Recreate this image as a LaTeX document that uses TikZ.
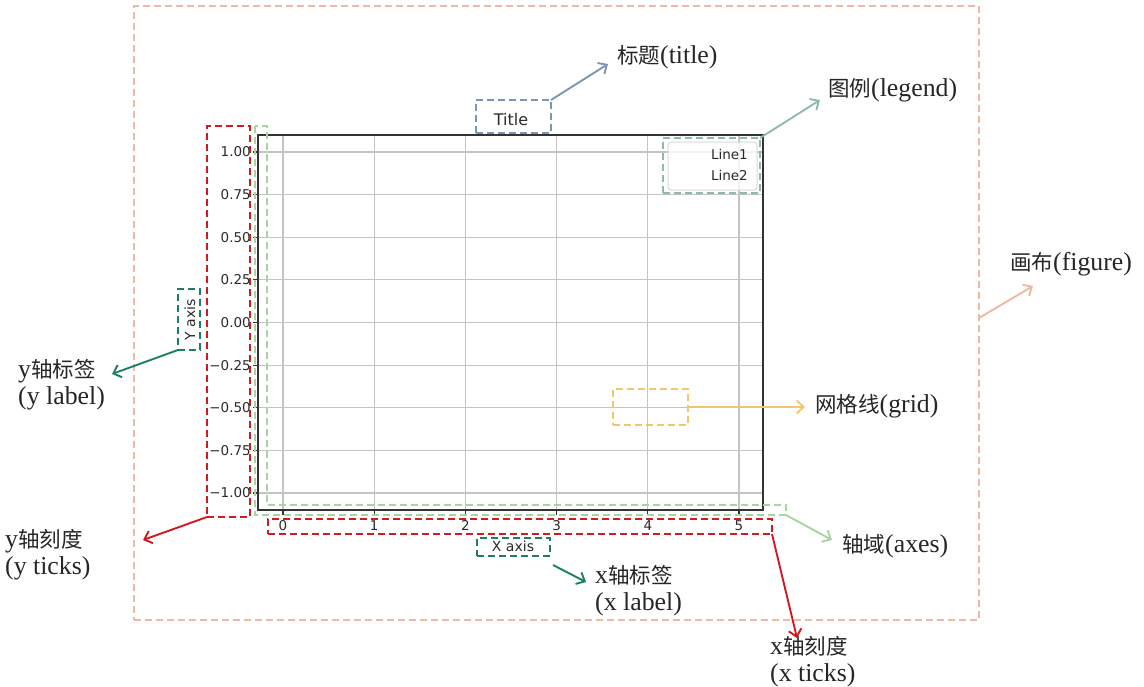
\documentclass[tikz,border=0pt]{standalone}
\usepackage{fontspec}
\setmainfont{Liberation Serif}[Scale=1.2]
\newfontfamily\cjk{Noto Sans CJK SC}
\newfontfamily\mpl{DejaVu Sans}
\usetikzlibrary{arrows.meta}
\definecolor{figc}{HTML}{EFB8A2}
\definecolor{titc}{HTML}{7E94B5}
\definecolor{legc}{HTML}{8CBCA5}
\definecolor{axc}{HTML}{A9D3A0}
\definecolor{labc}{HTML}{1A7F64}
\definecolor{tickc}{HTML}{D11A1F}
\definecolor{gridc}{HTML}{F2C66D}
\definecolor{gl}{HTML}{C4C4C4}
\definecolor{spine}{HTML}{333333}
\definecolor{mtext}{HTML}{2A2A2A}
\tikzset{
  dbox/.style={draw=#1, dash pattern=on 7pt off 4pt, line width=1.9pt, inner sep=0pt, outer sep=0pt},
  arr/.style={draw=#1, line width=1.9pt, -{Straight Barb[length=7pt,width=13pt]}},
  lab/.style={font=\fontsize{21.5}{27}\selectfont, align=left, inner sep=0pt, text=black!85},
  mtick/.style={font=\mpl\fontsize{13.5}{15}\selectfont, text=mtext, inner sep=0pt},
  gline/.style={draw=gl, line width=1.1pt},
}
\begin{document}
\begin{tikzpicture}[x=1pt,y=-1pt]
\useasboundingbox (0,0) rectangle (1144,686);
% figure
\node[dbox=figc, line width=1.4pt, dash pattern=on 7pt off 4pt, minimum width=845pt, minimum height=614pt] (figbox) at (556.5,313) {};
% grid
\foreach \x in {283,374.2,465.4,556.6,647.8,739} {
  \draw[gline] (\x,135) -- (\x,510);
  \draw[spine, line width=1.2pt] (\x,510) -- (\x,515);
}
\foreach \k in {0,...,8} {
  \draw[gline] (258,152+\k*42.625) -- (763,152+\k*42.625);
  \draw[spine, line width=1.2pt] (253,152+\k*42.625) -- (258,152+\k*42.625);
}
% axes frame
\node[draw=spine, line width=1.5pt, minimum width=505pt, minimum height=375pt, inner sep=0pt, outer sep=0pt] (axframe) at (510.5,322.5) {};
% tick labels
\foreach \k/\l in {0/1.00,1/0.75,2/0.50,3/0.25,4/0.00,5/−0.25,6/−0.50,7/−0.75,8/−1.00} {
  \node[mtick, anchor=east] (yt\k) at (251,152+\k*42.625) {\l};
}
\foreach \k/\x in {0/283,1/374.2,2/465.4,3/556.6,4/647.8,5/739} {
  \node[mtick, anchor=base] (xt\k) at (\x,530) {\k};
}
% legend
\node[draw=black!15, fill=white, fill opacity=0.8, rounded corners=3pt, line width=1pt, minimum width=89pt, minimum height=48pt, inner sep=0pt] (leginner) at (712.5,166) {};
\node[mtick, anchor=east] (line1) at (748,154) {Line1};
\node[mtick, anchor=east] (line2) at (748,175) {Line2};
\node[dbox=legc, minimum width=97pt, minimum height=55pt] (legbox) at (711.5,165.5) {};
% title
\node[font=\mpl\fontsize{16}{18}\selectfont, text=mtext, inner sep=0pt] (ttext) at (511,120) {Title};
\node[dbox=titc, minimum width=75pt, minimum height=33pt] (titbox) at (513.5,116.5) {};
% y label
\node[font=\mpl\fontsize{14}{16}\selectfont, text=mtext, rotate=90, inner sep=0pt] (ylab) at (190,319.5) {Y axis};
\node[dbox=labc, minimum width=22pt, minimum height=61pt] (ylbox) at (189,319.5) {};
% x label
\node[font=\mpl\fontsize{14}{16}\selectfont, text=mtext, inner sep=0pt] (xlab) at (513,546) {X axis};
\node[dbox=labc, minimum width=73pt, minimum height=18pt] (xlbox) at (513.5,547) {};
% ticks boxes
\node[dbox=tickc, minimum width=43pt, minimum height=391pt] (ytbox) at (228.5,321.5) {};
\node[dbox=tickc, minimum width=504pt, minimum height=15pt] (xtbox) at (520,526.5) {};
% axes outline
\coordinate (axcorner) at (786,515);
\draw[axc, dash pattern=on 7pt off 4pt, line width=1.7pt] (255,126) -- (255,515) -- (axcorner) -- (786,505) -- (267,505) -- (267,126) -- cycle;
% grid box
\node[dbox=gridc, minimum width=75pt, minimum height=36pt] (gridbox) at (650.5,407) {};
% labels
\node[lab, anchor=west] (Ltitle) at (617,57) {{\cjk 标题}(title)};
\node[lab, anchor=west] (Llegend) at (828,90) {{\cjk 图例}(legend)};
\node[lab, anchor=west] (Lfigure) at (1010,264) {{\cjk 画布}(figure)};
\node[lab, anchor=west] (Lgrid) at (815,406) {{\cjk 网格线}(grid)};
\node[lab, anchor=west] (Laxes) at (842,546) {{\cjk 轴域}(axes)};
\node[lab, anchor=west] (Lxlabel) at (595,591) {x{\cjk 轴标签}\\(x label)};
\node[lab, anchor=west] (Lxticks) at (770,662) {x{\cjk 轴刻度}\\(x ticks)};
\node[lab, anchor=west] (Lylabel) at (18,385) {y{\cjk 轴标签}\\(y label)};
\node[lab, anchor=west] (Lyticks) at (5,555) {y{\cjk 轴刻度}\\(y ticks)};
% arrow tips
\coordinate (tTitle) at (608,64);
\coordinate (tLegend) at (820,100);
\coordinate (tFigure) at (1033,286);
\coordinate (tGrid) at (805,407);
\coordinate (tAxes) at (832,540);
\coordinate (tXticks) at (797,638);
\coordinate (tXlabel) at (586,582);
\coordinate (tYlabel) at (112,374);
\coordinate (tYticks) at (143,540);
% connectors
\draw[arr=titc] (titbox.north east) -- (tTitle);
\draw[arr=legc] (legbox.north east) -- (tLegend);
\draw[arr=figc] ([yshift=-5pt]figbox.east) -- (tFigure);
\draw[arr=gridc] (gridbox.east) -- (tGrid);
\draw[arr=axc] (axcorner) -- (tAxes);
\draw[arr=tickc] (xtbox.south east) -- (tXticks);
\draw[arr=labc] ([shift={(3pt,-9pt)}]xlbox.south east) -- (tXlabel);
\draw[arr=labc] (ylbox.south west) -- (tYlabel);
\draw[arr=tickc] (ytbox.south west) -- (tYticks);
\end{tikzpicture}
\end{document}
